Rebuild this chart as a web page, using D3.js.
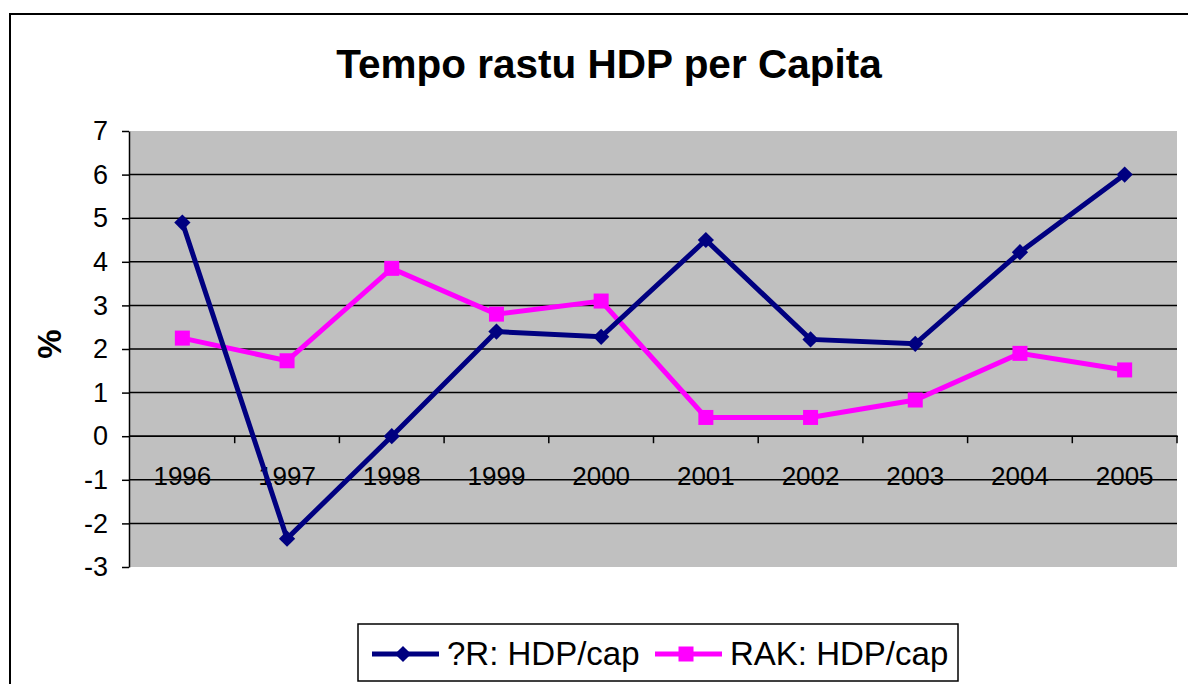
<!DOCTYPE html>
<html><head><meta charset="utf-8">
<script src="https://cdn.jsdelivr.net/npm/d3@7"></script>
<style>body{margin:0;background:#fff}svg{display:block;font-family:"Liberation Sans",Arial,sans-serif}</style>
</head><body>
<script>
const years = ["1996","1997","1998","1999","2000","2001","2002","2003","2004","2005"];
const crValues = [4.9, -2.35, 0.0, 2.4, 2.28, 4.5, 2.22, 2.12, 4.22, 6.0];
const rakValues = [2.25, 1.73, 3.85, 2.8, 3.1, 0.43, 0.43, 0.83, 1.9, 1.52];
const yTicks = [-3,-2,-1,0,1,2,3,4,5,6,7];
const seriesNames = ["?R: HDP/cap", "RAK: HDP/cap"];
const title = "Tempo rastu HDP per Capita";

(function(){
const W = 1188, H = 684;
const svg = d3.select("body").append("svg").attr("width", W).attr("height", H);

svg.append("rect").attr("x",10).attr("y",14).attr("width",W+20).attr("height",H+20)
  .attr("fill","none").attr("stroke","#000").attr("stroke-width",2);

const pL = 130, pR = 1177, pT = 131, pB = 567;
const x = d3.scaleBand().domain(years).range([pL, pR]);
const y = d3.scaleLinear().domain([-3, 7]).range([pB, pT]);

svg.append("rect").attr("x",pL).attr("y",pT).attr("width",pR-pL).attr("height",pB-pT).attr("fill","#C0C0C0");

svg.append("g").selectAll("line").data(yTicks.filter(d=>d>-3 && d<7)).join("line")
  .attr("x1",pL).attr("x2",pR).attr("y1",d=>y(d)).attr("y2",d=>y(d))
  .attr("stroke","#000").attr("stroke-width",1.5);

const yAxis = svg.append("g").attr("transform",`translate(${pL-1},0)`)
  .call(d3.axisLeft(y).tickValues(yTicks).tickFormat(d=>String(d)).tickSize(7).tickPadding(14).tickSizeOuter(0));
yAxis.select(".domain").attr("stroke","#000").attr("stroke-width",1.5);
yAxis.selectAll(".tick line").attr("stroke","#000").attr("stroke-width",1.5);
yAxis.selectAll("text").attr("font-size",27).attr("fill","#000").attr("font-family","Liberation Sans, Arial, sans-serif");

const y0 = y(0);
svg.append("line").attr("x1",pL-1).attr("x2",pR+1).attr("y1",y0).attr("y2",y0).attr("stroke","#000").attr("stroke-width",1.5);
const bounds = years.map(d=> x(d) + x.bandwidth());
svg.append("g").selectAll("line").data(bounds).join("line")
  .attr("x1",d=>d).attr("x2",d=>d).attr("y1",y0).attr("y2",y0+7)
  .attr("stroke","#000").attr("stroke-width",1.5);
svg.append("g").selectAll("text").data(years).join("text")
  .attr("x",d=>x(d)+x.bandwidth()/2).attr("y",y0+49)
  .attr("text-anchor","middle").attr("font-size",26).attr("fill","#000").text(d=>d);

const cx = d => x(d) + x.bandwidth()/2;
const line = d3.line().x((d,i)=>cx(years[i])).y(d=>y(d));
const navy = "#000080", magenta = "#FF00FF";

svg.append("path").datum(rakValues).attr("d",line).attr("fill","none").attr("stroke",magenta).attr("stroke-width",5);
svg.append("g").selectAll("rect").data(rakValues).join("rect")
  .attr("x",(d,i)=>cx(years[i])-7.5).attr("y",d=>y(d)-7.5).attr("width",15).attr("height",15).attr("fill",magenta);

svg.append("path").datum(crValues).attr("d",line).attr("fill","none").attr("stroke",navy).attr("stroke-width",5);
svg.append("g").selectAll("path").data(crValues).join("path")
  .attr("d", d3.symbol().type(d3.symbolSquare).size(132))
  .attr("transform",(d,i)=>`translate(${cx(years[i])},${y(d)}) rotate(45)`)
  .attr("fill",navy);

svg.append("text").attr("x",609).attr("y",78).attr("text-anchor","middle")
  .attr("font-size",40.5).attr("font-weight","bold").attr("fill","#000").text(title);

svg.append("text").attr("transform","translate(61,344) rotate(-90)").attr("text-anchor","middle")
  .attr("font-size",33).attr("font-weight","bold").attr("fill","#000").text("%");

svg.append("rect").attr("x",358).attr("y",624).attr("width",600).attr("height",57)
  .attr("fill","#fff").attr("stroke","#000").attr("stroke-width",1.5);
const leg = [{name:seriesNames[0], color:navy, x0:372, type:"diamond"},{name:seriesNames[1], color:magenta, x0:655, type:"square"}];
const ly = 654;
leg.forEach(l=>{
  svg.append("line").attr("x1",l.x0).attr("x2",l.x0+67).attr("y1",ly).attr("y2",ly).attr("stroke",l.color).attr("stroke-width",5);
  if(l.type==="square"){
    svg.append("rect").attr("x",l.x0+31-7.5).attr("y",ly-7.5).attr("width",15).attr("height",15).attr("fill",l.color);
  } else {
    svg.append("path").attr("d", d3.symbol().type(d3.symbolSquare).size(132)).attr("transform",`translate(${l.x0+31},${ly}) rotate(45)`).attr("fill",l.color);
  }
  svg.append("text").attr("x",l.x0+75).attr("y",665).attr("font-size",33).attr("fill","#000").text(l.name);
});
})();
</script>
</body></html>
